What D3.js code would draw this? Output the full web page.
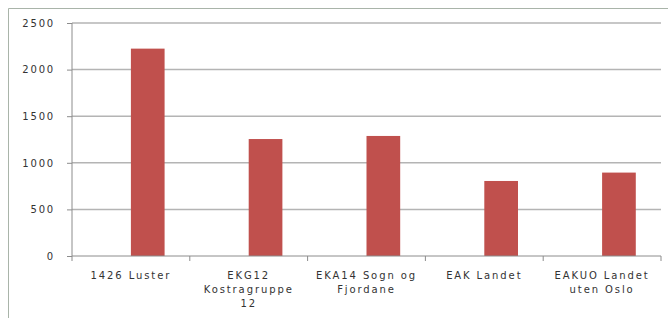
<!DOCTYPE html>
<html>
<head>
<meta charset="utf-8">
<script src="https://cdn.jsdelivr.net/npm/d3@7"></script>
<style>
  body { margin: 0; background: #fff; }
  text { font-family: "DejaVu Sans", sans-serif; fill: #333; }
</style>
</head>
<body>
<script>
var categories = ["1426 Luster", "EKG12 Kostragruppe 12", "EKA14 Sogn og Fjordane", "EAK Landet", "EAKUO Landet uten Oslo"];
var labelLines = [["1426 Luster"], ["EKG12", "Kostragruppe", "12"], ["EKA14 Sogn og", "Fjordane"], ["EAK Landet"], ["EAKUO Landet", "uten Oslo"]];
var values = [2225, 1255, 1288, 805, 895];
var yTicks = [0, 500, 1000, 1500, 2000, 2500];

var W = 668, H = 318;
var margin = {top: 23, right: 7, bottom: 62, left: 72};
var barFrac = 0.286; // bar width as share of category slot

var svg = d3.select("body").append("svg")
    .attr("width", W)
    .attr("height", H);

// outer chart frame (only top and left visible)
svg.append("path")
    .attr("d", "M8.5," + H + "V8.5H" + W)
    .attr("fill", "none")
    .attr("stroke", "#a9b4a9")
    .attr("stroke-width", 1);

var xb = d3.scaleBand()
    .domain(categories)
    .range([margin.left, W - margin.right]);

var y = d3.scaleLinear()
    .domain([0, 2500])
    .range([H - margin.bottom, margin.top]);

// gridlines
svg.append("g")
    .selectAll("line")
    .data(yTicks.filter(function(d) { return d > 0; }))
    .enter()
    .append("line")
    .attr("x1", margin.left)
    .attr("x2", W - margin.right)
    .attr("y1", function(d) { return y(d); })
    .attr("y2", function(d) { return y(d); })
    .attr("stroke", "#b4b4b4")
    .attr("stroke-width", 1.5);

// bars (sit just right of the category centre, like a 2-series cluster with one empty)
svg.append("g")
    .selectAll("rect")
    .data(values)
    .enter()
    .append("rect")
    .attr("x", function(d, i) { return xb(categories[i]) + xb.bandwidth() / 2; })
    .attr("width", xb.bandwidth() * barFrac)
    .attr("y", function(d) { return y(d); })
    .attr("height", function(d) { return y(0) - y(d); })
    .attr("fill", "#c0504d");

// y axis
var yAxis = svg.append("g")
    .attr("transform", "translate(" + margin.left + ",0)")
    .call(d3.axisLeft(y).tickValues(yTicks).tickFormat(d3.format("d")).tickSize(5).tickPadding(12));
yAxis.select(".domain").attr("stroke", "#8c8c8c").attr("d", "M0," + y(2500) + "V" + y(0));
yAxis.selectAll(".tick line").attr("stroke", "#8c8c8c");
yAxis.selectAll(".tick text")
    .style("font-size", "10px")
    .style("letter-spacing", "1.8px")
    .attr("fill", "#333");

// x axis line with boundary ticks
var xAxis = svg.append("g");
xAxis.append("line")
    .attr("x1", margin.left)
    .attr("x2", W - margin.right)
    .attr("y1", y(0))
    .attr("y2", y(0))
    .attr("stroke", "#8c8c8c");
xAxis.selectAll(".bt")
    .data(categories.concat(["end"]))
    .enter()
    .append("line")
    .attr("x1", function(d, i) { return margin.left + i * xb.bandwidth(); })
    .attr("x2", function(d, i) { return margin.left + i * xb.bandwidth(); })
    .attr("y1", y(0))
    .attr("y2", y(0) + 5)
    .attr("stroke", "#8c8c8c");

// category labels
var lab = svg.append("g")
    .selectAll("text")
    .data(labelLines)
    .enter()
    .append("text")
    .attr("text-anchor", "middle")
    .style("font-size", "10px")
    .style("letter-spacing", "1.9px")
    .attr("transform", function(d, i) {
        return "translate(" + (xb(categories[i]) + xb.bandwidth() / 2) + "," + (y(0) + 23) + ")";
    });
lab.selectAll("tspan")
    .data(function(d) { return d; })
    .enter()
    .append("tspan")
    .attr("x", 0)
    .attr("dy", function(d, i) { return i === 0 ? 0 : 14; })
    .text(function(d) { return d; });
</script>
</body>
</html>
